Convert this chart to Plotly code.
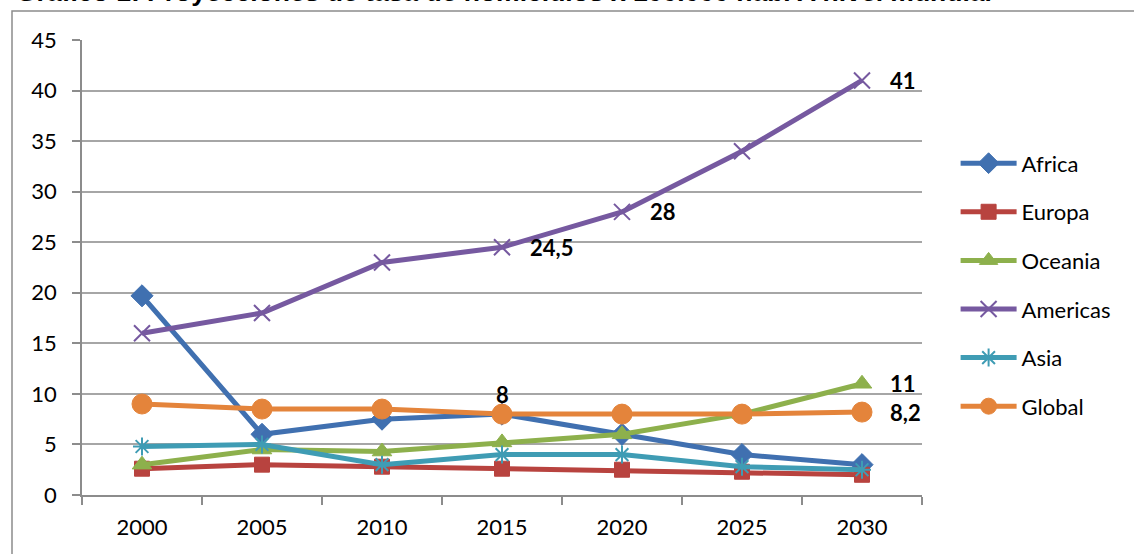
import plotly.graph_objects as go

years = ["2000", "2005", "2010", "2015", "2020", "2025", "2030"]
africa = [19.7, 6.0, 7.5, 8.0, 6.0, 4.0, 3.0]
europa = [2.6, 3.0, 2.8, 2.6, 2.5, 2.3, 2.0]
oceania = [3.0, 4.5, 4.3, 5.2, 6.0, 8.0, 11.0]
americas = [16.0, 18.0, 23.0, 24.5, 28.0, 34.0, 41.0]
asia = [4.8, 5.0, 3.0, 4.0, 4.0, 2.8, 2.5]
global_ = [9.0, 8.5, 8.5, 8.0, 8.0, 8.0, 8.2]

series = [
    ("Africa", africa, "#4070B0", "diamond", 17),
    ("Europa", europa, "#B8433F", "square", 15),
    ("Oceania", oceania, "#8DB04C", "triangle-up", 17),
    ("Americas", americas, "#7659A0", "x-thin-open", 16),
    ("Asia", asia, "#3F9CB4", "asterisk-open", 15),
    ("Global", global_, "#E4843B", "circle", 20),
]

# data labels: (series values, category index, text, xshift, yshift, xanchor)
labels = [
    (americas, 6, "41", 26, 0, "left"),
    (americas, 4, "28", 26, 0, "left"),
    (americas, 3, "24,5", 26, 0, "left"),
    (global_, 3, "8", 0, 20, "center"),
    (oceania, 6, "11", 26, 0, "left"),
    (global_, 6, "8,2", 26, 0, "left"),
]

fig = go.Figure()
for name, vals, color, sym, size in series:
    open_sym = sym.endswith("open")
    fig.add_trace(go.Scatter(
        x=years, y=vals, name=name, mode="lines+markers",
        legendgroup=name,
        line=dict(color=color, width=5),
        marker=dict(symbol=sym, size=size, color=color,
                    line=dict(color=color, width=2 if open_sym else 1)),
    ))

for vals, idx, txt, xs, ys, xa in labels:
    fig.add_annotation(x=idx, y=vals[idx], xref="x", yref="y",
                       text="<b>%s</b>" % txt, showarrow=False,
                       xanchor=xa, yanchor="middle", xshift=xs, yshift=ys,
                       font=dict(family="Lato", size=22, color="black"))

fig.add_annotation(
    x=(14 - 82) / 840, y=(495 + 8) / 455, xref="paper", yref="paper",
    xanchor="left", yanchor="middle",
    text="<b>Gráfico 1: Proyecciones de tasa de homicidios x 100.000 hab. A nivel mundial</b>",
    showarrow=False, font=dict(family="Liberation Sans", size=26.5, color="black"),
)

fig.update_layout(
    width=1134, height=554,
    margin=dict(l=82, r=212, t=40, b=59),
    paper_bgcolor="white", plot_bgcolor="white",
    font=dict(family="Lato", size=22, color="black"),
    showlegend=True,
    legend=dict(x=1.04, y=0.775, xanchor="left", yanchor="top",
                font=dict(family="Lato", size=22, color="black"),
                tracegroupgap=17, itemwidth=56, bgcolor="rgba(0,0,0,0)"),
    xaxis=dict(type="category", range=[-0.5, 6.5], showgrid=False,
               showline=True, linecolor="#8C8C8C", linewidth=1.5,
               ticks="outside", tickcolor="#8C8C8C", ticklen=8, tickwidth=1.5,
               tickson="boundaries", ticklabelstandoff=12),
    yaxis=dict(range=[0, 45], dtick=5, showgrid=True, gridcolor="#A6A6A6",
               gridwidth=1.5, zeroline=False,
               showline=True, linecolor="#8C8C8C", linewidth=1.5,
               ticks="outside", tickcolor="#8C8C8C", ticklen=8, tickwidth=1.5,
               ticklabelstandoff=11),
    shapes=[dict(type="rect", xref="paper", yref="paper",
                 x0=-70 / 840, x1=1.4, y0=-0.3, y1=1.0 + 29 / 455,
                 line=dict(color="#8C8C8C", width=1.5), layer="below")],
)

fig.write_html("out.html", config={"displayModeBar": False},
               post_script="document.body.style.margin='0';document.body.style.overflow='hidden';")
